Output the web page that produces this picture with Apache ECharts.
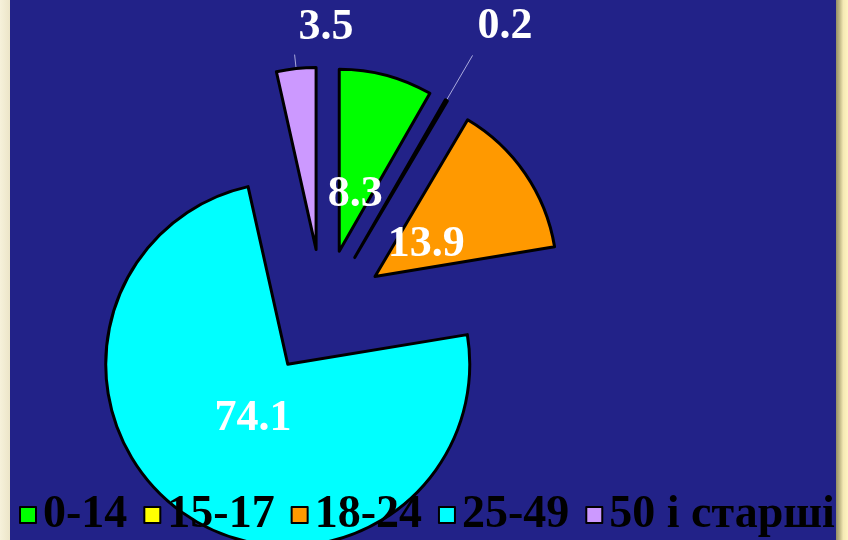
<!DOCTYPE html>
<html><head><meta charset="utf-8">
<script src="https://cdn.jsdelivr.net/npm/echarts@6/dist/echarts.min.js"></script>
<style>html,body{margin:0;padding:0;background:#efe9cf;overflow:hidden}#c{width:848px;height:540px}</style>
</head><body><div id="c"></div>
<script>
const categories = ['0-14', '15-17', '18-24', '25-49', '50 і старші'];
const values = [8.3, 0.2, 13.9, 74.1, 3.5];
const colors = ['#00ff00', '#ffff00', '#ff9900', '#00ffff', '#cc99ff'];
const outsideLabel = [false, true, false, false, true];

const total = values.reduce((a, b) => a + b, 0);
function midAngle(i) {
  let s = 0;
  for (let k = 0; k < i; k++) s += values[k];
  return (s + values[i] / 2) / total * 2 * Math.PI;
}
const lineLength = { 1: 52, 4: 14 };
const outsideShift = { 1: [0, -29], 4: [64, -27] };

const chart = echarts.init(document.getElementById('c'), null, { renderer: 'canvas' });
chart.setOption({
  animation: false,
  backgroundColor: '#efe9cf',
  graphic: [
    { type: 'rect', z: -10, shape: { x: 10, y: 0, width: 826, height: 540 }, style: { fill: '#222288' } },
    { type: 'rect', z: -10, shape: { x: 836, y: 0, width: 12, height: 540 },
      style: { fill: { type: 'linear', x: 0, y: 0, x2: 1, y2: 0, colorStops: [
        { offset: 0, color: '#958f66' }, { offset: 0.35, color: '#c8bf8c' }, { offset: 0.6, color: '#f4e9b4' }, { offset: 1, color: '#fff4c0' } ] } } },
    { type: 'rect', z: -10, shape: { x: 0, y: 0, width: 10, height: 540 },
      style: { fill: { type: 'linear', x: 0, y: 0, x2: 1, y2: 0, colorStops: [
        { offset: 0, color: '#f6f1da' }, { offset: 1, color: '#ece5c8' } ] } } }
  ],
  legend: {
    left: 19, top: 492, orient: 'horizontal', padding: 0,
    icon: 'rect', itemWidth: 16, itemHeight: 16, itemGap: 16,
    selectedMode: false,
    data: categories,
    itemStyle: { borderColor: '#000', borderWidth: 2 },
    textStyle: { color: '#000', fontFamily: 'Liberation Serif', fontWeight: 'bold', fontSize: 46, padding: [0, 0, 0, 2] }
  },
  series: [{
    type: 'pie',
    center: [323, 312],
    radius: 182,
    startAngle: 90,
    clockwise: true,
    selectedMode: 'multiple',
    selectedOffset: 63,
    avoidLabelOverlap: false,
    emphasis: { scale: false },
    itemStyle: { borderColor: '#000', borderWidth: 3 },
    label: {
      formatter: '{c}',
      color: '#ffffff', fontFamily: 'Liberation Serif', fontWeight: 'bold', fontSize: 44
    },
    labelLine: { lineStyle: { color: '#aaaadd', width: 1 } },
    data: categories.map((name, i) => ({
      name: name,
      value: values[i],
      selected: true,
      itemStyle: { color: colors[i] },
      label: { position: outsideLabel[i] ? 'outside' : 'inside' },
      labelLine: outsideLabel[i] ? { show: true, length: lineLength[i], length2: 0 } : { show: false }
    })),
    labelLayout: function (p) {
      const i = p.dataIndex;
      if (!outsideLabel[i]) {
        const a = midAngle(i);
        return { dx: -32 * Math.sin(a), dy: 32 * Math.cos(a) + 3 };
      }
      const s = outsideShift[i];
      return { dx: s[0], dy: s[1], labelLinePoints: p.labelLinePoints };
    }
  }]
});
</script>
</body></html>
